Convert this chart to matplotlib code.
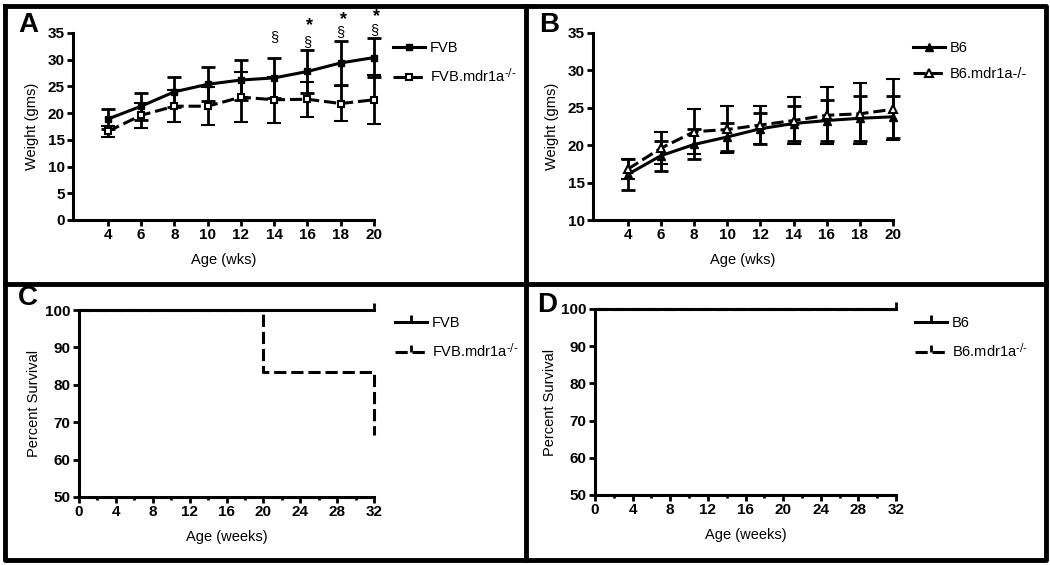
import numpy as np
import matplotlib
matplotlib.use("Agg")
import matplotlib.pyplot as plt
from matplotlib.lines import Line2D

plt.rcParams['font.family'] = ['Liberation Sans', 'DejaVu Sans']
plt.rcParams['mathtext.default'] = 'regular'

# ---- data ----
wks = [4, 6, 8, 10, 12, 14, 16, 18, 20]

fvb = [18.9, 21.3, 24.0, 25.4, 26.2, 26.6, 27.8, 29.4, 30.4]
fvb_err = [1.8, 2.5, 2.8, 3.2, 3.7, 3.8, 4.0, 4.1, 3.6]
fvb_ko = [16.6, 19.6, 21.3, 21.3, 23.0, 22.5, 22.6, 21.8, 22.5]
fvb_ko_err = [1.0, 2.3, 3.0, 3.6, 4.7, 4.3, 3.3, 3.3, 4.6]

b6 = [16.1, 18.6, 20.1, 21.1, 22.2, 22.9, 23.3, 23.6, 23.8]
b6_err = [2.1, 2.0, 2.0, 1.9, 2.1, 2.3, 2.7, 3.0, 2.8]
b6_ko = [16.8, 19.6, 21.8, 22.1, 22.7, 23.3, 24.0, 24.2, 24.8]
b6_ko_err = [1.3, 2.1, 3.0, 3.2, 2.6, 3.1, 3.8, 4.1, 4.1]

# significance marks (week, symbol, y)
sig_marks = [(14, '§', 34.3), (16, '§', 33.3), (18, '§', 35.1), (20, '§', 35.5),
             (16.15, '*', 36.3), (18.15, '*', 37.6), (20.15, '*', 38.1)]

surv_t_fvb = [0, 32]
surv_fvb = [100, 100]
surv_t_fvb_ko = [0, 20, 32, 32]
surv_fvb_ko = [100, 83.33, 66.67, 66.67]
surv_t_b6 = [0, 32]
surv_b6 = [100, 100]
surv_b6_ko = [100, 100]

W, H = 1050, 565
fig = plt.figure(figsize=(W / 100, H / 100), dpi=100)


def box(x0, y0, x1, y1):
    return [x0 / W, 1 - y1 / H, (x1 - x0) / W, (y1 - y0) / H]


LW = 2.2
DASH = (4, 1.6)
KO = r'$^{\text{-/-}}$'


def style(ax, xlab, ylab, ypad=6):
    for s in ['top', 'right']:
        ax.spines[s].set_visible(False)
    for s in ['left', 'bottom']:
        ax.spines[s].set_linewidth(2.2)
    ax.tick_params(width=2, length=4, labelsize=11, pad=2)
    for lab in ax.get_xticklabels() + ax.get_yticklabels():
        lab.set_fontweight('bold')
    ax.set_xlabel(xlab, fontsize=10.5, labelpad=8)
    ax.set_ylabel(ylab, fontsize=10.5, labelpad=ypad)


def leg(ax, handles, labels, x, y):
    ax.legend(handles, labels, loc='upper left', bbox_to_anchor=(x / W, 1 - y / H),
              bbox_transform=fig.transFigure, frameon=False, fontsize=10.5,
              handlelength=2.2, handletextpad=0.35, labelspacing=0.8,
              borderaxespad=0, borderpad=0, numpoints=1)


def ebar(ax, y, e, **kw):
    c = ax.errorbar(wks, y, yerr=e, color='k', lw=LW, capsize=5, capthick=2,
                    elinewidth=2, zorder=3, **kw)
    c.lines[0].set_clip_on(False)
    for a in c.lines[1]:
        a.set_clip_on(False)
    for a in c.lines[2]:
        a.set_clip_on(False)


# ---- A ----
axA = fig.add_axes(box(73, 33, 374, 220))
ebar(axA, fvb, fvb_err, marker='s', ms=5)
ebar(axA, fvb_ko, fvb_ko_err, ls='--', dashes=DASH, marker='s', ms=5,
     mfc='white', mec='k', mew=1.5)
for wk, sym, yv in sig_marks:
    if sym == '*':
        axA.text(wk, yv, sym, ha='center', va='center', fontsize=13, fontweight='bold', clip_on=False)
    else:
        axA.text(wk, yv, sym, ha='center', va='center', fontsize=10.5, clip_on=False)
axA.set_xlim(1.9, 20)
axA.set_ylim(0, 35)
axA.set_xticks(wks)
axA.set_yticks(range(0, 36, 5))
style(axA, 'Age (wks)', 'Weight (gms)')
hA = [Line2D([], [], color='k', lw=LW, marker='s', ms=5),
      Line2D([], [], color='k', lw=LW, ls='--', dashes=DASH, marker='s', ms=5, mfc='white', mew=1.5)]
leg(axA, hA, ['FVB', 'FVB.mdr1a' + KO], 393, 41)

# ---- B ----
axB = fig.add_axes(box(593, 33, 893, 220))
ebar(axB, b6, b6_err, marker='^', ms=6)
ebar(axB, b6_ko, b6_ko_err, ls='--', dashes=DASH, marker='^', ms=6,
     mfc='white', mec='k', mew=1.5)
axB.set_xlim(1.9, 20)
axB.set_ylim(10, 35)
axB.set_xticks(wks)
axB.set_yticks(range(10, 36, 5))
style(axB, 'Age (wks)', 'Weight (gms)')
hB = [Line2D([], [], color='k', lw=LW, marker='^', ms=6),
      Line2D([], [], color='k', lw=LW, ls='--', dashes=DASH, marker='^', ms=6, mfc='white', mew=1.5)]
leg(axB, hB, ['B6', 'B6.mdr1a-/-'], 913, 41)

# ---- C ----
axC = fig.add_axes(box(79, 310, 374, 497))
axC.step(surv_t_fvb_ko, surv_fvb_ko, where='post', color='k', lw=LW, ls='--', dashes=DASH, clip_on=False)
axC.step(surv_t_fvb, surv_fvb, where='post', color='k', lw=LW, clip_on=False)
axC.plot([32], [100], marker=2, ms=5, mew=2, color='k', clip_on=False)
axC.set_xlim(0, 32)
axC.set_ylim(50, 100)
axC.set_xticks(range(0, 33, 4))
axC.set_xticks(range(2, 32, 4), minor=True)
axC.set_yticks(range(50, 101, 10))
axC.tick_params(which='minor', width=2, length=2.5)
style(axC, 'Age (weeks)', 'Percent Survival', ypad=3)
hC = [Line2D([], [], color='k', lw=LW, marker=2, ms=5, mew=2),
      Line2D([], [], color='k', lw=LW, ls='--', dashes=DASH, marker=2, ms=5, mew=2)]
leg(axC, hC, ['FVB', 'FVB.mdr1a' + KO], 395, 316)

# ---- D ----
axD = fig.add_axes(box(595, 309, 896, 495))
axD.step(surv_t_b6, surv_b6_ko, where='post', color='k', lw=LW, ls='--', dashes=DASH, clip_on=False)
axD.step(surv_t_b6, surv_b6, where='post', color='k', lw=LW, clip_on=False)
axD.plot([32], [100], marker=2, ms=5, mew=2, color='k', clip_on=False)
axD.set_xlim(0, 32)
axD.set_ylim(50, 100)
axD.set_xticks(range(0, 33, 4))
axD.set_xticks(range(2, 32, 4), minor=True)
axD.set_yticks(range(50, 101, 10))
axD.tick_params(which='minor', width=2, length=2.5)
style(axD, 'Age (weeks)', 'Percent Survival', ypad=3)
hD = [Line2D([], [], color='k', lw=LW, marker=2, ms=5, mew=2),
      Line2D([], [], color='k', lw=LW, ls='--', dashes=DASH, marker=2, ms=5, mew=2)]
leg(axD, hD, ['B6', 'B6.mdr1a' + KO], 915, 316)

# panel letters
for txt, x, y in [('A', 28, 25), ('B', 549, 25), ('C', 28, 298), ('D', 547, 305)]:
    fig.text(x / W, 1 - y / H, txt, fontsize=20, fontweight='bold', ha='center', va='center')

# panel frames
fl = 3.5
for xs, ys in [([5, 1046, 1046, 5, 5], [5.5, 5.5, 560, 560, 5.5]),
               ([526, 526], [5.5, 560]),
               ([5, 1046], [283.5, 283.5])]:
    fig.add_artist(Line2D([v / W for v in xs], [1 - v / H for v in ys], color='k', lw=fl))

fig.savefig('out.png', dpi=100)
